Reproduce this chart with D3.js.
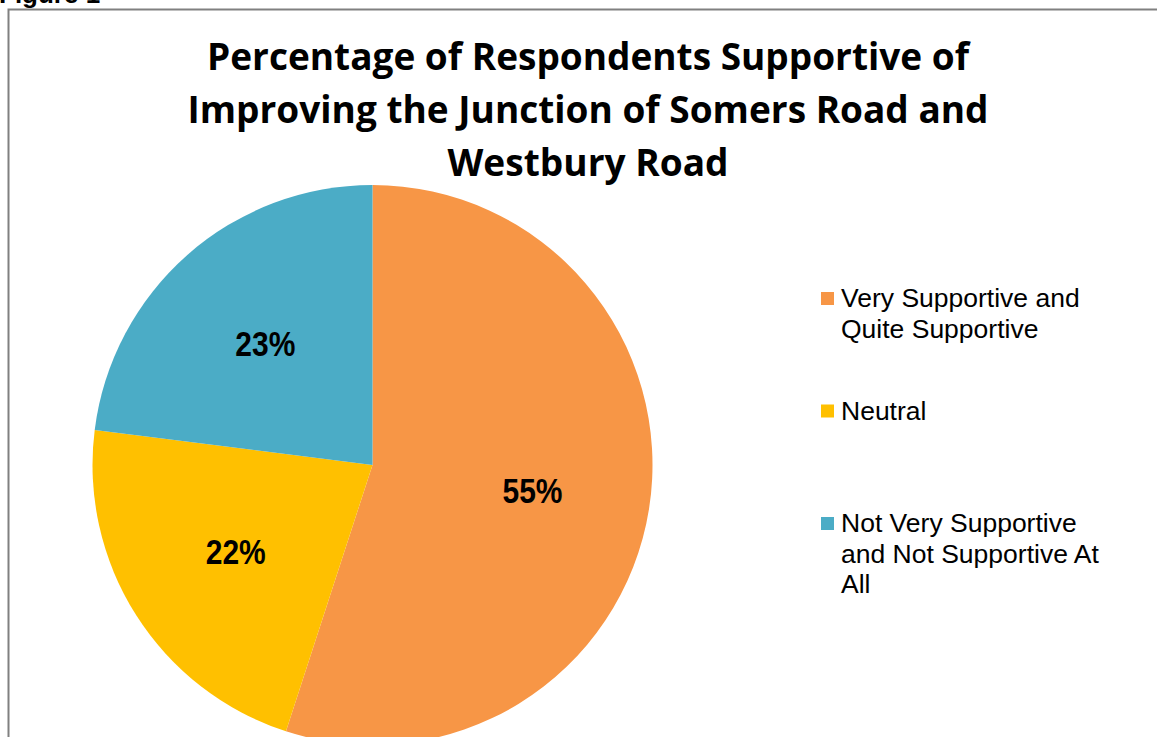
<!DOCTYPE html>
<html>
<head>
<meta charset="utf-8">
<script src="https://cdn.jsdelivr.net/npm/d3@7"></script>
<style>
  body { margin: 0; background: #fff; }
  svg { display: block; }
</style>
</head>
<body>
<svg width="1157" height="737"></svg>
<script>
// chart data
var categories = ["Very Supportive and Quite Supportive", "Neutral", "Not Very Supportive and Not Supportive At All"];
var values = [55, 22, 23];
var colors = ["#F79646", "#FFC000", "#4BACC6"];
var titleLines = ["Percentage of Respondents Supportive of", "Improving the Junction of Somers Road and", "Westbury Road"];

var svg = d3.select("svg"),
    width = +svg.attr("width"),
    height = +svg.attr("height");

// frame of the figure, runs off the right/bottom edge
svg.append("rect")
    .attr("x", 8.5).attr("y", 9.5)
    .attr("width", width + 20).attr("height", height + 20)
    .attr("fill", "none")
    .attr("stroke", "#808080")
    .attr("stroke-width", 2);

// caption, cut off at the top like in the source page
svg.append("text")
    .attr("x", -1).attr("y", 3)
    .style("font", "bold 26px 'Liberation Sans', Arial, sans-serif")
    .text("Figure 1");

// title
var titleWidths = [762, 801, 281];
svg.append("g").selectAll("text")
    .data(titleLines)
    .enter().append("text")
    .attr("x", 588)
    .attr("y", function(d, i) { return 70 + i * 53; })
    .attr("text-anchor", "middle")
    .attr("textLength", function(d, i) { return titleWidths[i]; })
    .attr("lengthAdjust", "spacingAndGlyphs")
    .style("font", "bold 38px 'Open Sans', sans-serif")
    .text(function(d) { return d; });

// pie
var cx = 372.5, cy = 465, radius = 280;
var color = d3.scaleOrdinal().domain(categories).range(colors);

var pie = d3.pie().sort(null).value(function(d) { return d.value; });
var arc = d3.arc().innerRadius(0).outerRadius(radius);
var labelArc = d3.arc().innerRadius(162).outerRadius(162);

var slices = pie(categories.map(function(c, i) { return {name: c, value: values[i]}; }));

var g = svg.append("g").attr("transform", "translate(" + cx + "," + cy + ")");

g.selectAll("path")
    .data(slices)
    .enter().append("path")
    .attr("d", arc)
    .attr("fill", function(d) { return color(d.data.name); });

g.selectAll("text.pct")
    .data(slices)
    .enter().append("text")
    .attr("class", "pct")
    .attr("transform", function(d) { return "translate(" + labelArc.centroid(d) + ")"; })
    .attr("dy", "0.36em")
    .attr("text-anchor", "middle")
    .attr("textLength", 60)
    .attr("lengthAdjust", "spacingAndGlyphs")
    .style("font", "bold 35px 'Liberation Sans', Arial, sans-serif")
    .text(function(d) { return d.data.value + "%"; });

// legend
var legend = svg.append("g").attr("transform", "translate(821,292)");
var rowGap = 112.5, lineGap = 30.5;

var item = legend.selectAll("g")
    .data(categories)
    .enter().append("g")
    .attr("transform", function(d, i) { return "translate(0," + i * rowGap + ")"; });

item.append("rect")
    .attr("width", 13).attr("height", 13)
    .attr("fill", function(d) { return color(d); });

item.append("text")
    .attr("x", 20)
    .attr("y", 15)
    .style("font", "26.5px 'Liberation Sans', Arial, sans-serif")
    .style("fill", "#000")
    .each(function(d) { wrap(d3.select(this), d, 285); });

// simple word wrap into tspans
function wrap(text, str, maxW) {
  var words = str.split(" "), line = [];
  var tspan = text.append("tspan").attr("x", 20).attr("dy", 0);
  words.forEach(function(w) {
    line.push(w);
    tspan.text(line.join(" "));
    if (tspan.node().getComputedTextLength() > maxW && line.length > 1) {
      line.pop();
      tspan.text(line.join(" "));
      line = [w];
      tspan = text.append("tspan").attr("x", 20).attr("dy", lineGap).text(w);
    }
  });
}
</script>
</body>
</html>
